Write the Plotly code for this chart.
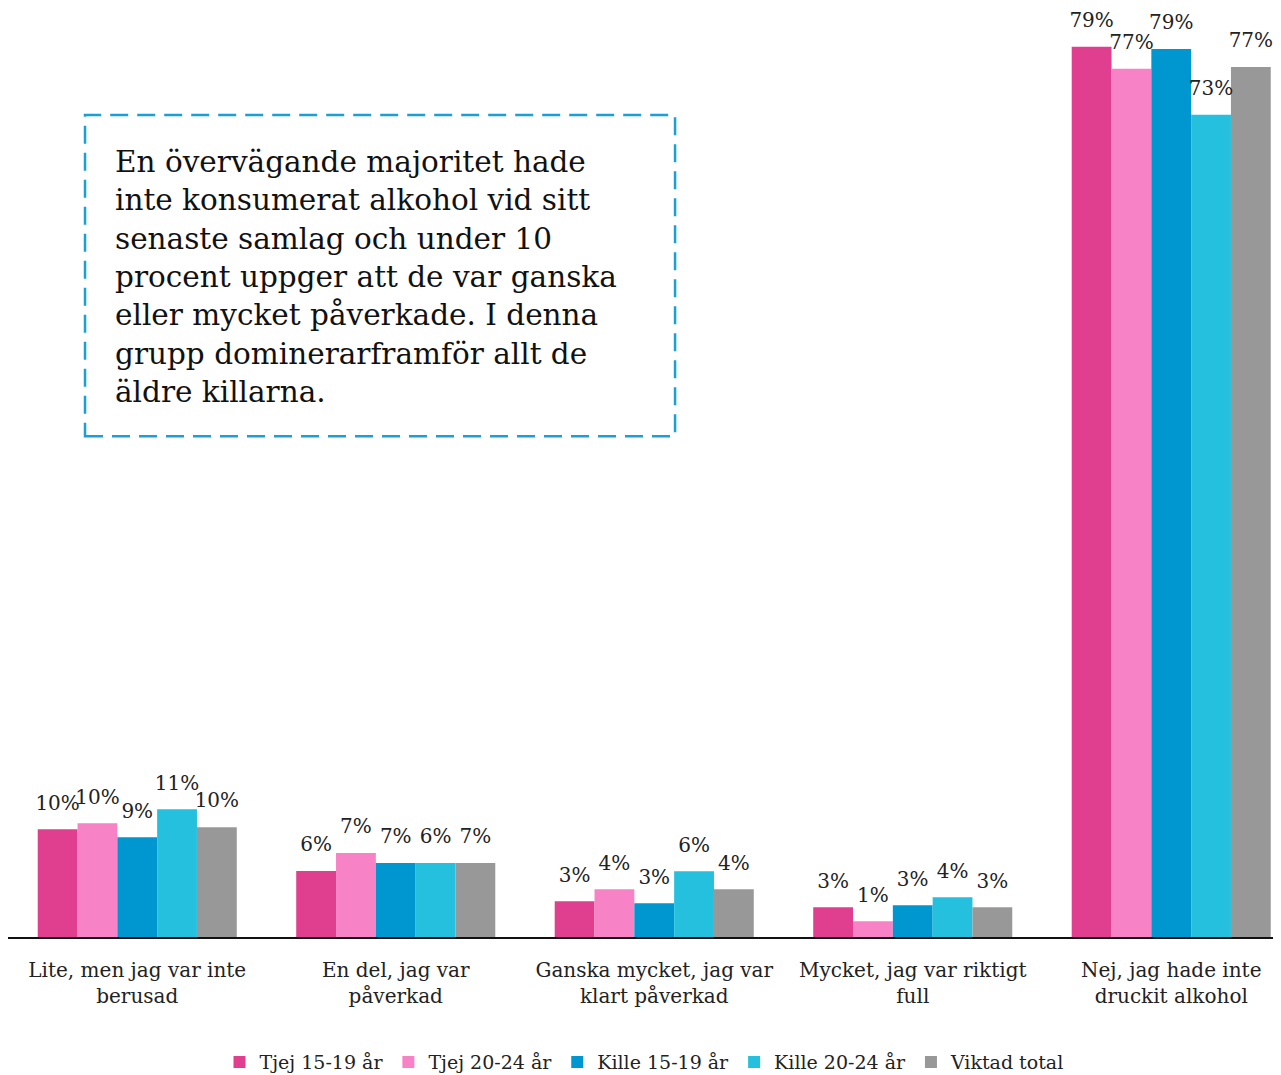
import plotly.graph_objects as go

#%% data
categories = ["Lite, men jag var inte<br>berusad",
              "En del, jag var<br>påverkad",
              "Ganska mycket, jag var<br>klart påverkad",
              "Mycket, jag var riktigt<br>full",
              "Nej, jag hade inte<br>druckit alkohol"]

series_names = ["Tjej 15-19 år", "Tjej 20-24 år", "Kille 15-19 år", "Kille 20-24 år", "Viktad total"]
colors = ["#e03f8f", "#f782c6", "#0096cf", "#25c0dd", "#989898"]

tjej_15_19 = [9.56, 5.86, 3.17, 2.64, 79.0]
tjej_20_24 = [10.09, 7.45, 4.23, 1.39, 77.05]
kille_15_19 = [8.85, 6.57, 2.99, 2.81, 78.8]
kille_20_24 = [11.33, 6.57, 5.83, 3.52, 72.96]
viktad_total = [9.74, 6.57, 4.23, 2.64, 77.2]

# labels as printed in the chart
lab_tjej_15_19 = [10, 6, 3, 3, 79]
lab_tjej_20_24 = [10, 7, 4, 1, 77]
lab_kille_15_19 = [9, 7, 3, 3, 79]
lab_kille_20_24 = [11, 6, 6, 4, 73]
lab_viktad_total = [10, 7, 4, 3, 77]

values = [tjej_15_19, tjej_20_24, kille_15_19, kille_20_24, viktad_total]
labels = [lab_tjej_15_19, lab_tjej_20_24, lab_kille_15_19, lab_kille_20_24, lab_viktad_total]

note = ("En övervägande majoritet hade<br>inte konsumerat alkohol vid sitt<br>"
        "senaste samlag och under 10<br>procent uppger att de var ganska<br>"
        "eller mycket påverkade. I denna<br>grupp dominerarframför allt de<br>"
        "äldre killarna.")

FONT = "DejaVu Serif"

#%% figure
fig = go.Figure()
for i in range(len(series_names)):
    fig.add_trace(go.Bar(x=categories, y=values[i], name=series_names[i],
                         marker=dict(color=colors[i], line=dict(width=0)),
                         offsetgroup=str(i), hoverinfo="skip"))
for i in range(len(series_names)):
    fig.add_trace(go.Scatter(x=categories, y=values[i], mode="markers+text",
                             text=[f"{v}%" for v in labels[i]],
                             textposition="top center",
                             textfont=dict(size=20, color="#222222", family=FONT),
                             marker=dict(size=22, opacity=0),
                             offsetgroup=str(i), showlegend=False,
                             cliponaxis=False, hoverinfo="skip"))

fig.add_shape(type="rect", xref="paper", yref="paper",
              x0=0.0605, x1=0.524, y0=0.5403, y1=0.8867,
              line=dict(color="#1a9fd6", width=2.5, dash="18px,9px"))
fig.add_annotation(text=note, xref="paper", yref="paper", x=0.0825, y=0.857,
                   xanchor="left", yanchor="top", align="left", showarrow=False,
                   font=dict(size=29.5, color="#111111", family=FONT))

fig.update_layout(
    width=1273, height=1067,
    margin=dict(l=0, r=0, t=2, b=138),
    paper_bgcolor="white", plot_bgcolor="white",
    barmode="group", bargap=0.23, bargroupgap=0,
    scattermode="group", scattergap=0.23,
    font=dict(family=FONT, size=19, color="#222222"),
    legend=dict(orientation="h", x=0.5, xanchor="center",
                yref="container", y=0.012, yanchor="middle",
                font=dict(size=19, family=FONT), itemwidth=30, tracegroupgap=0),
    xaxis=dict(range=[-0.5, 4.4246], showline=True, linecolor="#111111", linewidth=1.5,
               ticks="", ticklabelstandoff=14,
               tickfont=dict(size=20, family=FONT, color="#222222"), fixedrange=True),
    yaxis=dict(range=[0, 82.26], showgrid=False, showticklabels=False, zeroline=False,
               showline=False, fixedrange=True),
)

fig.write_html("out.html")
